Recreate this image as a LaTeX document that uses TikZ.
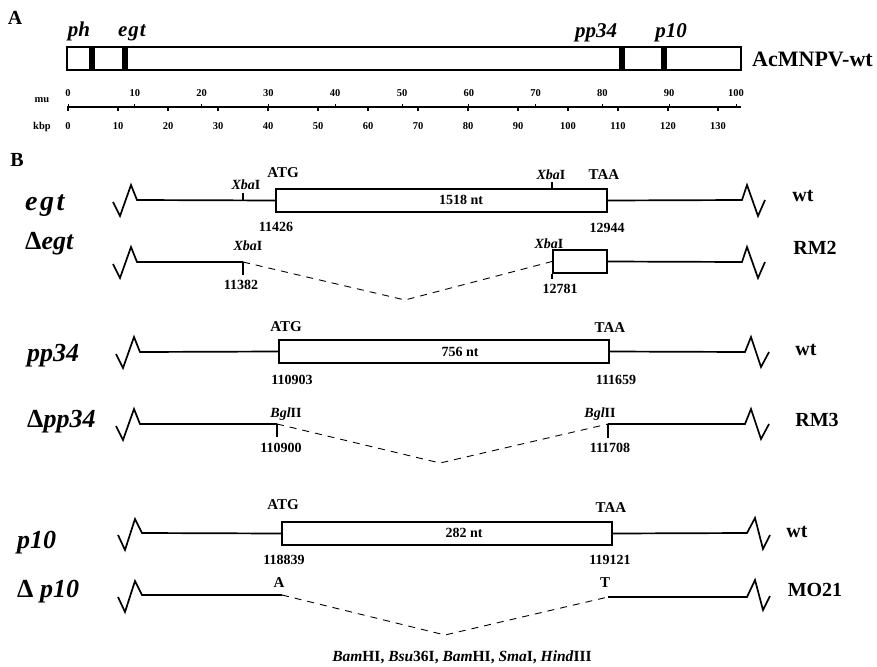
\documentclass[tikz,border=0pt]{standalone}
\usepackage{fontspec}
\setmainfont{Liberation Serif}
\begin{document}
\begin{tikzpicture}[x=1pt,y=-1pt,
  dna/.style={line width=1.7pt, line join=miter},
  orf/.style={draw, line width=2pt, rectangle, inner sep=0pt, fill=white, minimum height=23pt},
  band/.style={fill=black, draw=none, rectangle, inner sep=0pt, minimum width=6pt, minimum height=23pt},
  gapline/.style={line width=0.9pt, dash pattern=on 7pt off 6pt},
  site/.style={line width=1.1pt},
  gene/.style={font=\fontsize{26}{26}\selectfont\bfseries\itshape, anchor=base west, inner sep=0pt},
  geneA/.style={font=\fontsize{21}{21}\selectfont\bfseries\itshape, anchor=base, inner sep=0pt},
  strain/.style={font=\fontsize{20}{20}\selectfont\bfseries, inner sep=0pt},
  panel/.style={font=\fontsize{20}{20}\selectfont\bfseries, inner sep=0pt},
  codon/.style={font=\fontsize{15}{15}\selectfont\bfseries, inner sep=0pt},
  ntpos/.style={font=\fontsize{14}{14}\selectfont\bfseries, inner sep=0pt},
  enz/.style={font=\fontsize{14}{14}\selectfont\bfseries, inner sep=0pt},
  sc/.style={font=\fontsize{10.5}{10.5}\selectfont\bfseries, inner sep=0pt}
]
\useasboundingbox (0,0) rectangle (877,666);

% ---------------- Panel A: genome map ----------------
\node[panel] (lblA) at (15,18) {A};
\node[draw, line width=1.8pt, rectangle, inner sep=0pt, minimum width=674pt, minimum height=23pt] (genome) at (404,58.5) {};
\node[band] (bph)   at (92,58.5)  {};
\node[band] (begt)  at (125,58.5) {};
\node[band] (bpp34) at (622,58.5) {};
\node[band] (bp10)  at (664,58.5) {};
\node[geneA] (tph)   at (79,37)  {ph};
\node[geneA] (tegt)  at (132,37) {e\kern1pt g\kern1pt t};
\node[geneA] (tpp34) at (596,38) {pp34};
\node[geneA] (tp10)  at (671,38) {p10};
\node[strain, anchor=west, font=\fontsize{22}{22}\selectfont\bfseries] (wtA) at (752,59) {AcMNPV-wt};

% scale bar: map units above, kbp below
\coordinate (ax0) at (67,107);
\coordinate (ax1) at (741,107);
\draw[line width=1.6pt] (ax0) -- (ax1);
\node[sc] (mu) at (42,100) {mu};
\node[sc] (kbp) at (42,127) {kbp};
\foreach \m in {0,10,...,100}{
  \draw[line width=1pt] (68+6.68*\m,107) -- ++(0,-2.5);
  \node[sc] (mu\m) at (68+6.68*\m,93) {\m};
}
\foreach \k in {0,10,...,130}{
  \draw[line width=1.1pt] (68+5*\k,107) -- ++(0,4.5);
  \node[sc] (kb\k) at (68+5*\k,126) {\k};
}

% ---------------- Panel B: deletion constructs ----------------
\node[panel] (lblB) at (17,160) {B};

% egt, wild type
\node[gene, font=\fontsize{28}{28}\selectfont\bfseries\itshape] (gegt) at (25,210) {e\kern2.5pt g\kern2.5pt t};
\coordinate (egtA) at (137,200);
\coordinate (egtB) at (742,200);
\node[orf, minimum width=331pt] (egtbox) at (441.5,200.5) {};
\node[ntpos] (egtlen) at (461,200) {1518 nt};
\draw[dna] (egtA) ++(-24,2) -- ++(7,14) -- ++(11,-31) -- ++(6,15) -- (egtbox.west);
\draw[dna] (egtbox.east) -- (egtB) -- ++(5,-15) -- ++(11,31) -- ++(7,-16);
\coordinate (egtX1) at (243,200);
\coordinate (egtX2) at (552,189);
\draw[site] (egtX1) -- ++(0,-7);
\draw[site] (egtX2) -- ++(0,-7);
\node[enz] (egtx1) at (246,185) {\textit{Xba}I};
\node[enz] (egtx2) at (551,175) {\textit{Xba}I};
\node[codon] (egtatg) at (283,173) {ATG};
\node[codon] (egttaa) at (604,175) {TAA};
\node[ntpos] (egtp1) at (276,227) {11426};
\node[ntpos] (egtp2) at (607,228) {12944};
\node[strain] (segt) at (803,196) {wt};

% egt deletion
\node[gene] (gdegt) at (25,249) {{\upshape Δ}egt};
\coordinate (degtA) at (137,262);
\coordinate (degtC) at (243,262);
\coordinate (degtV) at (405,300);
\coordinate (degtB) at (742,262);
\node[orf, minimum width=54pt] (degtbox) at (580,261.5) {};
\draw[dna] (degtA) ++(-24,2) -- ++(7,14) -- ++(11,-31) -- ++(6,15) -- (degtC);
\draw[site] (degtC) -- ++(0,13);
\draw[gapline] (degtC) -- (degtV) -- (degtbox.west);
\draw[site] (degtbox.south west) -- ++(0,5);
\draw[dna] (degtbox.east) -- (degtB) -- ++(5,-15) -- ++(11,31) -- ++(7,-16);
\node[enz] (degtx1) at (248,246) {\textit{Xba}I};
\node[enz] (degtx2) at (549,244) {\textit{Xba}I};
\node[ntpos] (degtp1) at (241,285) {11382};
\node[ntpos] (degtp2) at (560,289) {12781};
\node[strain] (sdegt) at (815,248) {RM2};

% pp34, wild type
\node[gene] (gpp) at (27,361) {pp34};
\coordinate (ppA) at (140,352);
\coordinate (ppB) at (745,352);
\node[orf, minimum width=330pt] (ppbox) at (444,351.5) {};
\node[ntpos] (pplen) at (460,352) {756 nt};
\draw[dna] (ppA) ++(-24,2) -- ++(7,14) -- ++(11,-31) -- ++(6,15) -- (ppbox.west);
\draw[dna] (ppbox.east) -- (ppB) -- ++(6,-15) -- ++(10,30) -- ++(8,-15);
\node[codon] (ppatg) at (286,327) {ATG};
\node[codon] (pptaa) at (610,328) {TAA};
\node[ntpos] (ppp1) at (292,380) {110903};
\node[ntpos] (ppp2) at (616,380) {111659};
\node[strain] (spp) at (806,350) {wt};

% pp34 deletion
\node[gene] (gdpp) at (27,427) {{\upshape Δ}pp34};
\coordinate (dppA) at (140,424);
\coordinate (dppC) at (277,424);
\coordinate (dppV) at (440,463);
\coordinate (dppD) at (608,424);
\coordinate (dppB) at (745,424);
\draw[dna] (dppA) ++(-24,2) -- ++(7,14) -- ++(11,-31) -- ++(6,15) -- (dppC);
\draw[site] (dppC) -- ++(0,13);
\draw[gapline] (dppC) -- (dppV) -- (dppD);
\draw[site] (dppD) -- ++(0,14);
\draw[dna] (dppD) -- (dppB) -- ++(6,-15) -- ++(10,30) -- ++(8,-15);
\node[enz] (dppb1) at (286,414) {\textit{Bgl}II};
\node[enz] (dppb2) at (600,414) {\textit{Bgl}II};
\node[ntpos] (dppp1) at (281,448) {110900};
\node[ntpos] (dppp2) at (610,448) {111708};
\node[strain] (sdpp) at (817,420) {RM3};

% p10, wild type
\node[gene] (gp10) at (17,548) {p10};
\coordinate (pA) at (142,533);
\coordinate (pB) at (747,533);
\node[orf, minimum width=330pt] (pbox) at (447,533.5) {};
\node[ntpos] (plen) at (464,533) {282 nt};
\draw[dna] (pA) ++(-24,2) -- ++(7,15) -- ++(10,-31) -- ++(7,14) -- (pbox.west);
\draw[dna] (pbox.east) -- (pB) -- ++(8,-15) -- ++(8,31) -- ++(7,-14);
\node[codon] (patg) at (283,505) {ATG};
\node[codon] (ptaa) at (611,508) {TAA};
\node[ntpos] (pp1) at (284,560) {118839};
\node[ntpos] (pp2) at (610,560) {119121};
\node[strain] (sp10) at (797,532) {wt};

% p10 deletion with polylinker
\node[gene] (gdp10) at (17,597) {{\upshape Δ} p10};
\coordinate (dpA) at (142,595);
\coordinate (dpC) at (282,595);
\coordinate (dpV) at (445,635);
\coordinate (dpD) at (608,597);
\coordinate (dpB) at (747,597);
\draw[dna] (dpA) ++(-24,2) -- ++(7,15) -- ++(10,-31) -- ++(7,14) -- (dpC);
\draw[gapline] (dpC) -- (dpV) -- (dpD);
\draw[dna] (dpD) -- (dpB) -- ++(8,-17) -- ++(8,30) -- ++(7,-14);
\node[codon] (dpa) at (279,583) {A};
\node[codon] (dpt) at (605,583) {T};
\node[strain] (sdp10) at (815,590) {MO21};
\node[font=\fontsize{15.5}{15.5}\selectfont\bfseries, inner sep=0pt] (mcs) at (462,657)
  {\textit{Bam}HI, \textit{Bsu}36I, \textit{Bam}HI, \textit{Sma}I, \textit{Hind}III};
\end{tikzpicture}
\end{document}
